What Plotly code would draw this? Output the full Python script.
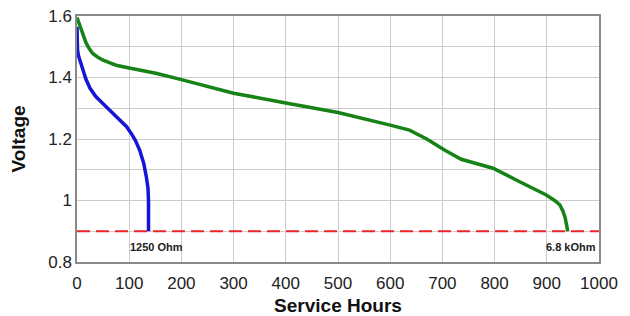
import plotly.graph_objects as go

# Blue curve (1250 Ohm load)
blue_hours = [0, 0.3, 1, 3, 6, 10, 17, 25, 36, 50, 62, 75, 95, 105, 112, 120, 128, 133, 136, 137, 137]
blue_volts = [1.565, 1.52, 1.49, 1.47, 1.452, 1.43, 1.395, 1.365, 1.338, 1.315, 1.296, 1.275, 1.24, 1.215, 1.195, 1.164, 1.12, 1.075, 1.04, 1.0, 0.9]

# Green curve (6.8 kOhm load)
green_hours = [0, 2, 4, 8, 12, 17, 23, 30, 40, 49, 62, 75, 100, 151, 200, 253, 300, 400, 500, 600, 637, 670, 704, 736, 760, 797, 848, 899, 915, 925, 931, 935, 938, 940]
green_volts = [1.595, 1.585, 1.575, 1.552, 1.532, 1.514, 1.495, 1.478, 1.466, 1.457, 1.448, 1.44, 1.431, 1.414, 1.393, 1.369, 1.349, 1.317, 1.286, 1.245, 1.229, 1.20, 1.164, 1.134, 1.122, 1.105, 1.061, 1.018, 1.0, 0.986, 0.965, 0.945, 0.92, 0.9]

cutoff_voltage = 0.9
labels = ["1250 Ohm", "6.8 kOhm"]
label_hours = [152, 946]
y_ticks = [0.8, 1.0, 1.2, 1.4, 1.6]
y_ticktext = ["0.8", "1", "1.2", "1.4", "1.6"]
x_ticks = [0, 100, 200, 300, 400, 500, 600, 700, 800, 900, 1000]

fig = go.Figure()
fig.add_trace(go.Scatter(x=[0, 1000], y=[cutoff_voltage, cutoff_voltage], mode="lines",
                         line=dict(color="#e8262a", width=2, dash="13px,6px"), showlegend=False))
fig.add_trace(go.Scatter(x=blue_hours, y=blue_volts, mode="lines",
                         line=dict(color="#1515d6", width=3.5), showlegend=False))
fig.add_trace(go.Scatter(x=green_hours, y=green_volts, mode="lines",
                         line=dict(color="#178317", width=3.5), showlegend=False))

for lab, hx in zip(labels, label_hours):
    fig.add_annotation(x=hx, y=0.85, xref="x", yref="y", text="<b>" + lab + "</b>", showarrow=False,
                       font=dict(family="Liberation Sans, Arial", size=11, color="#222222"))

grid = "#cccccc"
fig.update_layout(
    width=622, height=308,
    margin=dict(l=69, r=31, t=7.5, b=54),
    paper_bgcolor="white", plot_bgcolor="white",
    font=dict(family="Liberation Sans, Arial", color="#222222"),
    xaxis=dict(range=[0, 1000], tickmode="array", tickvals=x_ticks, showgrid=True, gridcolor=grid, gridwidth=1,
               showline=True, linecolor="#8a8a8a", linewidth=1.5, mirror=True, zeroline=False,
               ticks="", tickfont=dict(size=17, color="#222222"), automargin=False,
               ticklabelstandoff=5, ticklabeloverflow="allow",
               title=dict(text="<b>Service Hours</b>", font=dict(size=19, color="#111111"), standoff=7)),
    yaxis=dict(range=[0.8, 1.6], tickmode="array", tickvals=y_ticks, ticktext=y_ticktext,
               showgrid=True, gridcolor=grid, gridwidth=1,
               minor=dict(dtick=0.1, tick0=0.8, showgrid=True, gridcolor=grid, gridwidth=1),
               showline=True, linecolor="#8a8a8a", linewidth=1.5, mirror=True, zeroline=False,
               ticks="", tickfont=dict(size=17, color="#222222"), automargin=False,
               ticklabeloverflow="allow",
               title=dict(text="<b>Voltage</b>", font=dict(size=19, color="#111111"), standoff=24)),
)

fig.write_html("out.html")
